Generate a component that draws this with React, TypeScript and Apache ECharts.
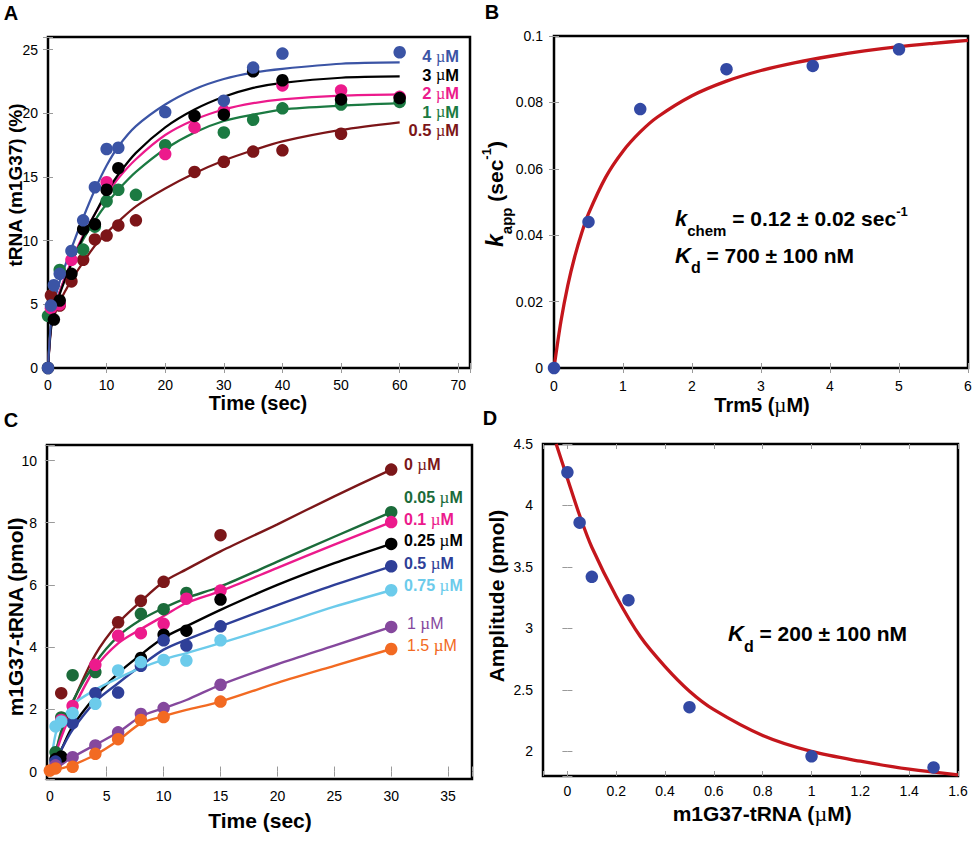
import React, { useEffect, useRef } from 'react';
import * as echarts from 'echarts';

const FONT = '"Liberation Sans", Arial, Helvetica, sans-serif';
const SERIF = '"Liberation Serif", "Times New Roman", serif';

// ---------- Panel A: tRNA (m1G37) (%) vs time, per Trm5 concentration ----------
const labelsA = ['4', '3', '2', '1', '0.5'];
const colorsA = ['#3b54a5', '#000000', '#ec1a8c', '#1b7a42', '#7c1518'];
const fitTimeA = [0, 0.5, 1, 2, 4, 6, 8, 10, 12, 15, 20, 25, 30, 35, 40, 50, 60];
const fitA4 = [0, 3.5, 5.0, 6.8, 9.4, 11.8, 14.0, 15.9, 17.4, 19.0, 20.7, 21.9, 22.7, 23.2, 23.5, 23.9, 24.0];
const fitA3 = [0, 3.0, 4.2, 5.8, 8.2, 10.3, 12.1, 13.8, 15.2, 16.9, 18.9, 20.3, 21.3, 22.0, 22.4, 22.8, 22.9];
const fitA2 = [0, 3.2, 4.4, 6.0, 8.4, 10.4, 12.1, 13.6, 14.9, 16.4, 18.3, 19.5, 20.3, 20.8, 21.1, 21.4, 21.5];
const fitA1 = [0, 3.4, 4.5, 6.0, 8.3, 10.1, 11.6, 12.9, 14.0, 15.4, 17.2, 18.5, 19.4, 19.9, 20.3, 20.6, 20.8];
const fitA05 = [0, 3.2, 4.0, 5.2, 6.9, 8.3, 9.6, 10.6, 11.5, 12.7, 14.1, 15.3, 16.3, 17.1, 17.8, 18.7, 19.3];
const tA4 = [0, 0.5, 1, 2, 4, 6, 8, 10, 12, 20, 30, 35, 40, 60];
const yA4 = [0, 4.9, 6.5, 7.4, 9.2, 11.6, 14.2, 17.2, 17.3, 20.1, 21.0, 23.6, 24.7, 24.8];
const tA3 = [0, 1, 2, 4, 6, 8, 10, 12, 25, 30, 35, 40, 50, 60];
const yA3 = [0, 3.8, 5.3, 7.4, 10.9, 11.3, 14.0, 15.7, 19.8, 19.9, 23.3, 22.6, 21.1, 21.2];
const tA2 = [0.5, 2, 4, 10, 20, 25, 30, 40, 50, 60];
const yA2 = [4.7, 5.0, 8.5, 14.6, 16.8, 18.9, 20.2, 22.2, 21.8, 21.3];
const tA1 = [0, 2, 6, 8, 10, 12, 15, 20, 30, 35, 40, 50, 60];
const yA1 = [4.1, 7.7, 9.3, 11.1, 13.1, 14.0, 13.6, 17.5, 18.5, 19.5, 20.4, 20.7, 20.9];
const tA05 = [0.5, 2, 4, 6, 8, 10, 12, 15, 25, 30, 35, 40, 50];
const yA05 = [5.7, 4.9, 6.8, 8.5, 10.1, 10.4, 11.2, 11.6, 15.4, 16.2, 17.0, 17.1, 18.4];

// ---------- Panel B: k_app vs Trm5 ----------
const trm5Conc = [0, 0.5, 1.25, 2.5, 3.75, 5];
const kapp = [0, 0.044, 0.078, 0.09, 0.091, 0.096];
const fitBx = [0, 0.1, 0.2, 0.3, 0.4, 0.5, 0.75, 1, 1.25, 1.5, 2, 2.5, 3, 3.5, 4, 4.5, 5, 5.5, 6];
const fitBy = [0, 0.014, 0.0249, 0.0335, 0.0406, 0.0465, 0.0575, 0.0653, 0.0711, 0.0756, 0.082, 0.0864, 0.0896, 0.092, 0.0939, 0.0955, 0.0968, 0.0978, 0.0987];

// ---------- Panel C: m1G37-tRNA (pmol) vs time, per m1G37-tRNA concentration ----------
const labelsC = ['0', '0.05', '0.1', '0.25', '0.5', '0.75', '1', '1.5'];
const colorsC = ['#7b1719', '#1b6b3a', '#ec1a8c', '#000000', '#2e3f98', '#6ccbeb', '#85489d', '#f26a22'];
const boldC = [true, true, true, true, true, true, false, false];
const fitTimeC = [0, 0.5, 1, 2, 4, 6, 8, 10, 12, 15, 20, 25, 30];
const fitC0 = [0, 0.6, 1.2, 2.2, 3.76, 4.77, 5.47, 6.1, 6.5, 7.08, 7.95, 8.85, 9.71];
const fitC005 = [0, 0.6, 1.3, 2.25, 3.5, 4.35, 4.88, 5.26, 5.58, 5.95, 6.75, 7.55, 8.34];
const fitC01 = [0, 0.55, 1.1, 1.98, 3.33, 4.12, 4.58, 5.0, 5.42, 5.8, 6.55, 7.3, 8.02];
const fitC025 = [0, 0.35, 0.7, 1.45, 2.41, 3.16, 3.76, 4.3, 4.67, 5.2, 6.0, 6.7, 7.32];
const fitC05 = [0, 0.35, 0.7, 1.34, 2.25, 2.84, 3.4, 3.92, 4.24, 4.67, 5.35, 6.0, 6.6];
const fitC075 = [0, 1.2, 1.6, 2.15, 2.63, 3.0, 3.33, 3.6, 3.81, 4.13, 4.7, 5.3, 5.83];
const fitC1 = [0, 0.1, 0.22, 0.46, 0.86, 1.26, 1.77, 2.04, 2.3, 2.79, 3.45, 4.05, 4.65];
const fitC15 = [0, 0.05, 0.1, 0.21, 0.54, 1.0, 1.55, 1.78, 1.98, 2.25, 2.85, 3.4, 3.94];
const tC0 = [1, 6, 8, 10, 15, 30];
const yC0 = [2.52, 4.8, 5.49, 6.1, 7.6, 9.71];
const tC005 = [0.5, 1, 2, 4, 8, 10, 12, 30];
const yC005 = [0.62, 1.74, 3.1, 3.2, 5.07, 5.22, 5.74, 8.34];
const tC01 = [1, 2, 4, 6, 8, 10, 12, 15, 30];
const yC01 = [1.66, 2.11, 3.43, 4.37, 4.45, 4.75, 5.56, 5.82, 8.02];
const tC025 = [0.5, 1, 8, 10, 12, 15, 30];
const yC025 = [0.4, 0.48, 3.65, 4.4, 4.53, 5.53, 7.32];
const tC05 = [0.5, 2, 4, 6, 8, 10, 12, 15, 30];
const yC05 = [0.32, 1.56, 2.52, 2.54, 3.4, 4.22, 4.05, 4.67, 6.6];
const tC075 = [0.5, 1, 2, 4, 6, 8, 10, 12, 15, 30];
const yC075 = [1.45, 1.61, 1.88, 2.18, 3.25, 3.52, 3.59, 3.57, 4.22, 5.83];
const tC1 = [0.5, 2, 4, 6, 8, 10, 15, 30];
const yC1 = [0.2, 0.46, 0.84, 1.26, 1.85, 2.04, 2.79, 4.65];
const tC15 = [0, 0.5, 2, 4, 6, 8, 10, 15, 30];
const yC15 = [0.03, 0.1, 0.15, 0.57, 1.04, 1.66, 1.75, 2.25, 3.94];

// ---------- Panel D: Amplitude vs m1G37-tRNA ----------
const m1g37Conc = [0, 0.05, 0.1, 0.25, 0.5, 1, 1.5];
const amplitude = [4.27, 3.86, 3.42, 3.23, 2.36, 1.96, 1.87];
const fitDx = [-0.046, 0, 0.05, 0.1, 0.2, 0.3, 0.4, 0.5, 0.6, 0.8, 1.0, 1.2, 1.4, 1.6];
const fitDy = [4.5, 4.22, 3.92, 3.66, 3.26, 2.93, 2.69, 2.49, 2.34, 2.13, 2.0, 1.92, 1.855, 1.81];

const pair = (xs: number[], ys: number[]) => xs.map((x, i) => [x, ys[i]]);

const fmtStep = (step: number) => (v: number) => {
  const k = Math.round(v / step);
  if (Math.abs(v - k * step) > step * 1e-3) return '';
  return String(parseFloat((k * step).toFixed(6)));
};

const tickStyle = { show: true, inside: true, length: 5, lineStyle: { color: '#9a9a9a', width: 1 } };

function makeAxes(isX: boolean, grid: number, min: number, max: number, step: number, useInterval: boolean, splitNumber: number, margin: number) {
  const base: any = {
    type: 'value', gridIndex: grid, min, max,
    splitLine: { show: false }, axisLine: { show: false }, axisTick: tickStyle,
  };
  if (useInterval) base.interval = step; else base.splitNumber = splitNumber;
  return [
    {
      ...base, position: isX ? 'bottom' : 'left',
      axisLabel: { show: true, margin, fontSize: 14, fontFamily: FONT, color: '#000', formatter: fmtStep(step), showMinLabel: true, showMaxLabel: true },
    },
    { ...base, position: isX ? 'top' : 'right', axisLabel: { show: false } },
  ];
}

const mu = { fontFamily: SERIF, fontWeight: 'normal' as const };

function txt(x: number, y: number, text: string, o: any = {}) {
  return {
    type: 'text', x, y, rotation: o.rotation || 0, z: 100,
    style: {
      text, fontSize: o.fontSize || 20, fontWeight: o.fontWeight || 'bold', fontFamily: FONT,
      fill: o.fill || '#000', align: o.align || 'center', verticalAlign: 'middle', rich: o.rich,
      lineHeight: o.lineHeight,
    },
  };
}

function muLabel(x: number, y: number, num: string, color: string, size: number, muSize: number, bold: boolean, align: string) {
  const w = bold ? 'bold' : 'normal';
  const lh = size - 3;
  return txt(x, y, `{a|${num} }{u|µ}{a|M}`, {
    align, fill: color, fontSize: size, lineHeight: lh,
    rich: {
      a: { fontSize: size, fontWeight: w, fontFamily: FONT, fill: color, verticalAlign: 'middle', lineHeight: lh },
      u: { fontSize: muSize, fontFamily: SERIF, fontWeight: 'normal', fill: color, verticalAlign: 'middle', lineHeight: lh },
    },
  });
}

export default function App() {
  const ref = useRef<HTMLDivElement>(null);
  useEffect(() => {
    if (!ref.current) return;
    const chart = echarts.init(ref.current, undefined, { renderer: 'svg' });

    const grids = [
      { left: 48, top: 37, width: 422, height: 331 },
      { left: 554, top: 36, width: 414, height: 332 },
      { left: 47, top: 445, width: 425, height: 334 },
      { left: 543, top: 444, width: 415, height: 332 },
    ].map(g => ({ ...g, show: true, borderColor: '#000', borderWidth: 2.5, backgroundColor: 'transparent', containLabel: false, outerBoundsMode: 'none' }));

    const xAxis = [
      ...makeAxes(true, 0, 0, 72, 10, true, 0, 10),
      ...makeAxes(true, 1, 0, 6, 1, true, 0, 11),
      ...makeAxes(true, 2, -0.25, 37.1, 5, false, 7, 10),
      ...makeAxes(true, 3, -0.1, 1.6, 0.2, false, 8, 8),
    ];
    const yAxis = [
      ...makeAxes(false, 0, 0, 26, 5, true, 0, 10),
      ...makeAxes(false, 1, 0, 0.1, 0.02, true, 0, 11),
      ...makeAxes(false, 2, -0.24, 10.5, 2, false, 5, 10),
      ...makeAxes(false, 3, 1.8, 4.5, 0.5, false, 5, 10),
    ];

    const series: any[] = [];
    const line = (p: number, data: number[][], color: string, width: number) => series.push({
      type: 'line', xAxisIndex: 2 * p, yAxisIndex: 2 * p, data, showSymbol: false, symbol: 'none',
      smooth: 0.3, lineStyle: { color, width }, z: 2, clip: true,
    });
    const pts = (p: number, data: number[][], color: string) => series.push({
      type: 'scatter', xAxisIndex: 2 * p, yAxisIndex: 2 * p, data, symbolSize: 12.5,
      itemStyle: { color, opacity: 1 }, z: 3, clip: false,
    });

    // Panel A
    const fitsA = [fitA4, fitA3, fitA2, fitA1, fitA05];
    const ptsA = [[tA05, yA05], [tA1, yA1], [tA2, yA2], [tA3, yA3], [tA4, yA4]];
    const ptsAColors = [colorsA[4], colorsA[3], colorsA[2], colorsA[1], colorsA[0]];
    ptsA.forEach((d, i) => pts(0, pair(d[0], d[1]), ptsAColors[i]));
    [4, 3, 2, 1, 0].forEach(i => line(0, pair(fitTimeA, fitsA[i]), colorsA[i], 2.2));

    // Panel B
    line(1, pair(fitBx, fitBy), '#c4161c', 3.3);
    pts(1, pair(trm5Conc, kapp), '#3349a4');

    // Panel C
    const fitsC = [fitC0, fitC005, fitC01, fitC025, fitC05, fitC075, fitC1, fitC15];
    const ptsC = [[tC0, yC0], [tC005, yC005], [tC01, yC01], [tC025, yC025], [tC05, yC05], [tC075, yC075], [tC1, yC1], [tC15, yC15]];
    fitsC.forEach((f, i) => line(2, pair(fitTimeC, f), colorsC[i], 2.4));
    ptsC.forEach((d, i) => pts(2, pair(d[0], d[1]), colorsC[i]));

    // Panel D
    line(3, pair(fitDx, fitDy), '#c4161c', 3.3);
    pts(3, pair(m1g37Conc, amplitude), '#3349a4');

    const sub = (size: number, shift: number) => ({ fontSize: size, fontWeight: 'bold', fontFamily: FONT, verticalAlign: 'middle', padding: [shift, 0, 0, 0] });
    const sup = (size: number, shift: number) => ({ fontSize: size, fontWeight: 'bold', fontFamily: FONT, verticalAlign: 'middle', padding: [0, 0, shift, 0] });
    const main = (size: number, italic = false) => ({ fontSize: size, fontWeight: 'bold', fontFamily: FONT, fontStyle: italic ? 'italic' : 'normal', verticalAlign: 'middle' });

    const graphic: any[] = [
      txt(11, 13, 'A', { fontSize: 20 }),
      txt(492, 12, 'B', { fontSize: 20 }),
      txt(11, 420, 'C', { fontSize: 20 }),
      txt(490, 418, 'D', { fontSize: 20 }),
      // axis titles
      txt(258, 403, 'Time (sec)', { fontSize: 20 }),
      txt(15, 185, 'tRNA (m1G37) (%)', { fontSize: 19, rotation: Math.PI / 2 }),
      txt(762, 405, '{a|Trm5 (}{u|µ}{a|M)}', {
        fontSize: 20, rich: { a: main(20), u: { ...mu, fontSize: 21, verticalAlign: 'middle' } },
      }),
      txt(495, 194, '{k|k}{s|app}{a| (sec}{p|-1}{a|)}', {
        rotation: Math.PI / 2, fontSize: 21,
        rich: { k: main(23, true), s: sub(15, 22), a: main(21), p: sup(13, 18) },
      }),
      txt(260, 820, 'Time (sec)', { fontSize: 21 }),
      txt(15, 617, 'm1G37-tRNA (pmol)', { fontSize: 21, rotation: Math.PI / 2 }),
      txt(762, 813, '{a|m1G37-tRNA (}{u|µ}{a|M)}', {
        fontSize: 21, rich: { a: main(21), u: { ...mu, fontSize: 22, verticalAlign: 'middle' } },
      }),
      txt(496, 596, 'Amplitude (pmol)', { fontSize: 21, rotation: Math.PI / 2 }),
      // annotations
      txt(675, 218, '{k|k}{s|chem}{a| = 0.12 ± 0.02 sec}{p|-1}', {
        align: 'left', fontSize: 21,
        rich: { k: main(22, true), s: sub(15, 24), a: main(21), p: sup(13, 14) },
      }),
      txt(675, 255, '{k|K}{s|d}{a| = 700 ± 100 nM}', {
        align: 'left', fontSize: 21,
        rich: { k: main(22, true), s: sub(16, 24), a: main(21) },
      }),
      txt(728, 633, '{k|K}{s|d}{a| = 200 ± 100 nM}', {
        align: 'left', fontSize: 21,
        rich: { k: main(22, true), s: sub(16, 26), a: main(21) },
      }),
    ];

    // Panel A labels (right-aligned)
    const yLabA = [56, 74.5, 93, 111.5, 130];
    labelsA.forEach((l, i) => graphic.push(muLabel(459, yLabA[i], l, colorsA[i], 16.5, 16, true, 'right')));
    // Panel C labels (left-aligned)
    const yLabC = [464, 497, 519, 540, 563, 585, 623, 645];
    labelsC.forEach((l, i) => graphic.push(muLabel(boldC[i] ? 404 : 407, yLabC[i], l, colorsC[i], 16, 17, boldC[i], 'left')));

    chart.setOption({
      animation: false,
      backgroundColor: '#fff',
      grid: grids,
      xAxis,
      yAxis,
      series,
      graphic,
    });
    return () => chart.dispose();
  }, []);
  return <div ref={ref} style={{ position: 'fixed', left: 0, top: 0, width: 973, height: 843 }} />;
}
